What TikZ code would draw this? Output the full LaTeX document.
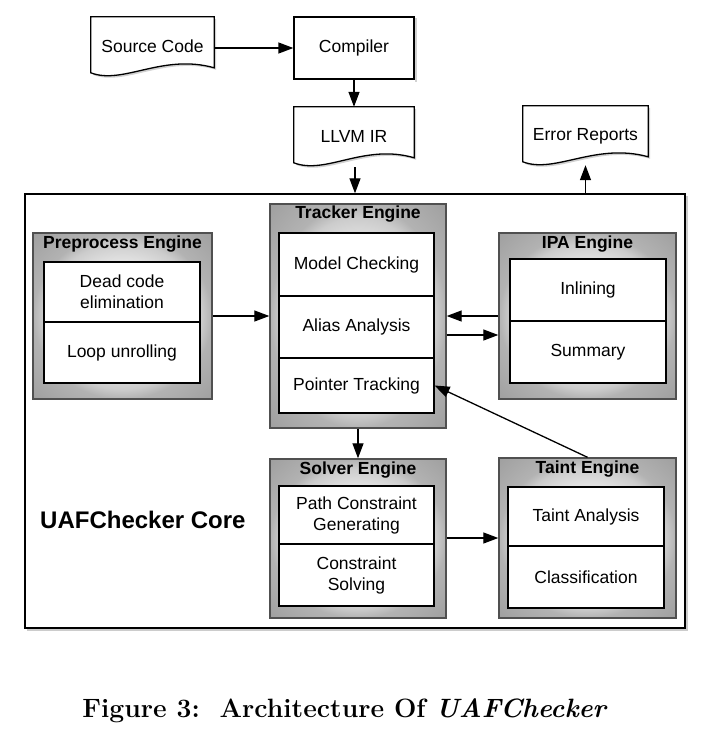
\documentclass[tikz,border=0pt]{standalone}
\usepackage{fontspec}
\setmainfont{Liberation Sans}
\usetikzlibrary{arrows.meta,calc}
\definecolor{engline}{HTML}{505050}
\pgfdeclareradialshading{engshade}{\pgfpoint{0bp}{0bp}}{%
  color(0bp)=(white!94!black); color(17bp)=(white!88!black);
  color(22bp)=(white!80!black); color(25bp)=(white!70!black);
  color(36bp)=(white!62!black); color(50bp)=(white!62!black)}
\tikzset{
  lbl/.style={font=\fontsize{17.5}{21}\selectfont, align=center},
  ttl/.style={font=\bfseries\fontsize{17.5}{21}\selectfont, inner sep=0pt},
  plainbox/.style={draw, line width=1.3pt, fill=white, inner sep=0pt},
  docbox/.style={inner sep=0pt},
  engine/.style={draw=engline, line width=1.4pt, inner sep=0pt, shading=engshade},
  cell/.style={draw, line width=1.2pt, fill=white, inner sep=0pt, lbl},
  arr/.style={line width=1.3pt, -{Triangle[length=15pt,width=11pt]}},
  shadowfill/.style={fill=black, opacity=0.18},
}
\newcommand{\docpath}[1]{%
  \fill[shadowfill] ($(#1.north west)+(2,2)$) -- ($(#1.north east)+(2,2)$) -- ($(#1.north east)+(2,53)$)
     .. controls ($(#1.south)+(12,-22)$) and ($(#1.south west)+(34,10)$) .. ($(#1.north west)+(2,58)$) -- cycle;
  \draw[line width=1.3pt, fill=white] (#1.north west) -- (#1.north east) -- ($(#1.north east)+(0,51)$)
     .. controls ($(#1.south)+(10,-24)$) and ($(#1.south west)+(32,8)$) .. ($(#1.north west)+(0,56)$) -- cycle;
}
\begin{document}
\begin{tikzpicture}[x=1pt,y=-1pt]
\useasboundingbox (0,0) rectangle (704,732);
\fill[white] (0,0) rectangle (704,732);

% top documents and compiler
\node[docbox, minimum width=123pt, minimum height=60pt] (src) at (152.5,47) {};
\docpath{src}
\node[lbl] at (152.5,46) {Source Code};

\node[plainbox, minimum width=120pt, minimum height=62pt] (comp) at (354,48) {};
\fill[shadowfill] ($(comp.north east)+(0,2)$) rectangle ($(comp.south east)+(2,2)$);
\node[lbl] at (comp.center) {Compiler};

\node[docbox, minimum width=120pt, minimum height=60pt] (llvm) at (354,137) {};
\docpath{llvm}
\node[lbl] at (354,136) {LLVM IR};

\node[docbox, minimum width=125pt, minimum height=60pt] (err) at (585.5,136) {};
\docpath{err}
\node[lbl] at (585.5,136) {Error Reports};

% core
\fill[black, opacity=0.2] (27,196) rectangle (688,631);
\node[draw, line width=1.4pt, fill=white, minimum width=660pt, minimum height=434pt, inner sep=0pt] (core) at (355,411) {};
\node[font=\bfseries\fontsize{24}{28}\selectfont, anchor=west, inner sep=0pt] (corelbl) at (40,520) {UAFChecker Core};

% Preprocess engine
\node[engine, minimum width=179pt, minimum height=166pt] (pre) at (122.5,316) {};
\node[ttl] (pret) at (122.5,244) {Preprocess Engine};
\node[cell, minimum width=156pt, minimum height=60pt] (pre1) at (122,292) {Dead code\\elimination};
\node[cell, minimum width=156pt, minimum height=61pt] (pre2) at (122,352.5) {Loop unrolling};

% Tracker engine
\node[engine, minimum width=176pt, minimum height=224pt] (trk) at (358,316) {};
\node[ttl] (trkt) at (358,214) {Tracker Engine};
\node[cell, minimum width=155pt, minimum height=63pt] (trk1) at (356.5,264.5) {Model Checking};
\node[cell, minimum width=155pt, minimum height=62pt] (trk2) at (356.5,327) {Alias Analysis};
\node[cell, minimum width=155pt, minimum height=55pt] (trk3) at (356.5,385.5) {Pointer Tracking};

% IPA engine
\node[engine, minimum width=177pt, minimum height=166pt] (ipa) at (587.5,316) {};
\node[ttl] (ipat) at (587.5,244) {IPA Engine};
\node[cell, minimum width=156pt, minimum height=62pt] (ipa1) at (588,290) {Inlining};
\node[cell, minimum width=156pt, minimum height=62pt] (ipa2) at (588,352) {Summary};

% Solver engine
\node[engine, minimum width=176pt, minimum height=159pt] (sol) at (358,538.5) {};
\node[ttl] (solt) at (358,470) {Solver Engine};
\node[cell, minimum width=155pt, minimum height=58pt] (sol1) at (356.5,515) {Path Constraint\\Generating};
\node[cell, minimum width=155pt, minimum height=62pt] (sol2) at (356.5,575) {Constraint\\Solving};

% Taint engine
\node[engine, minimum width=177pt, minimum height=160pt] (tnt) at (587.5,538) {};
\node[ttl] (tntt) at (587.5,469) {Taint Engine};
\node[cell, minimum width=156pt, minimum height=59pt] (tnt1) at (586,516.5) {Taint Analysis};
\node[cell, minimum width=156pt, minimum height=62pt] (tnt2) at (586,577) {Classification};

% connectors
\draw[arr] (src.east |- comp.west) -- (comp.west);
\draw[arr] (comp.south) -- (llvm.north);
\draw[arr] ($(llvm.south)+(1,0)$) -- (core.north -| 355,0);
\draw[arr] (core.north -| err.south) -- ($(err.south)+(0,-1)$);
\draw[arr] (pre.east) -- (pre.east -| trk.west);
\draw[arr] (ipa.west) -- (ipa.west -| trk.east);
\draw[arr] ($(trk.east)+(0,19)$) -- ($(ipa.west)+(0,19)$);
\draw[arr] (trk.south) -- (sol.north);
\draw[arr] (sol.east |- tnt.west) -- (tnt.west);
\draw[arr] (tnt.north) -- (trk3.east);

% caption
\node[font=\fontspec{Latin Modern Roman}\bfseries\fontsize{26.5}{30}\selectfont, inner sep=0pt] (cap) at (345,711)
  {Figure 3:\ \ Architecture Of \textit{UAFChecker}};
\end{tikzpicture}
\end{document}
